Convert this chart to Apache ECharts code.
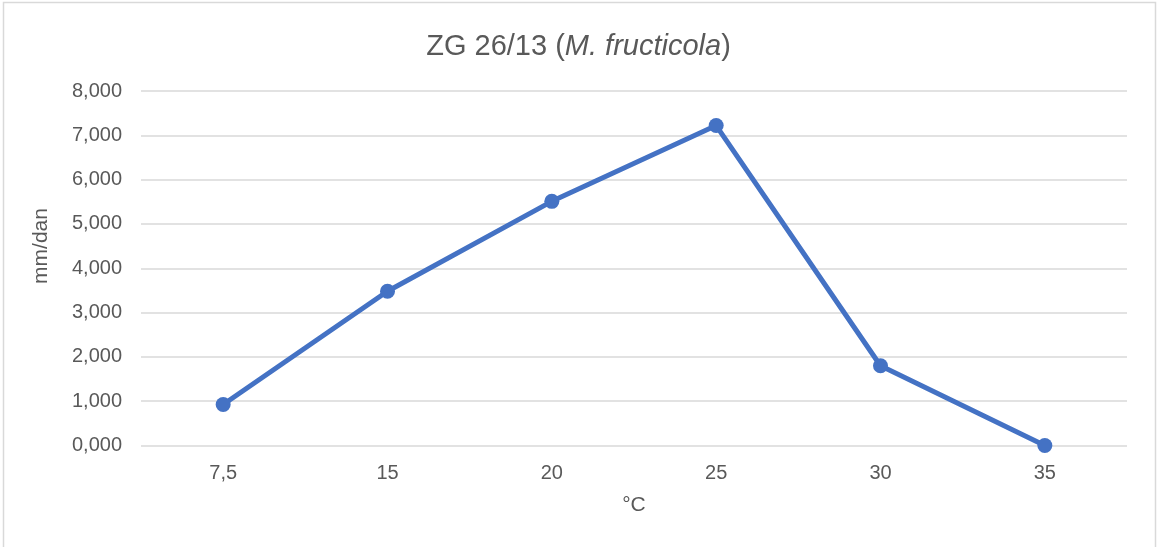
<!DOCTYPE html>
<html>
<head>
<meta charset="utf-8">
<style>
  html, body { margin: 0; padding: 0; background: #ffffff; }
  #chart { width: 1157px; height: 547px; }
</style>
<script src="https://cdn.jsdelivr.net/npm/echarts@6/dist/echarts.min.js"></script>
</head>
<body>
<div id="chart"></div>
<script>
// Temperature categories (°C) and daily growth values (mm/dan)
const categories = ['7,5', '15', '20', '25', '30', '35'];
const growth = [0.925, 3.48, 5.51, 7.22, 1.80, 0];
const yMin = 0;
const yMax = 8;
const yStep = 1;

const FONT = '"Liberation Sans", Arial, sans-serif';
const TEXT = '#595959';
const GRID = '#d9d9d9';
const LINE = '#4472C4';

const chart = echarts.init(document.getElementById('chart'), null, { renderer: 'canvas' });

chart.setOption({
  backgroundColor: '#ffffff',
  animation: false,
  title: {
    text: 'ZG 26/13 ({i|M. fructicola})',
    left: 'center',
    top: 27,
    textStyle: {
      fontFamily: FONT,
      fontSize: 29,
      fontWeight: 'normal',
      color: TEXT,
      rich: {
        i: { fontFamily: FONT, fontSize: 29, fontStyle: 'italic', color: TEXT }
      }
    }
  },
  grid: { left: 141, right: 30, top: 91, bottom: 101.5, containLabel: false },
  xAxis: {
    type: 'category',
    data: categories,
    boundaryGap: true,
    axisLine: { show: false },
    axisTick: { show: false },
    axisLabel: { color: TEXT, fontFamily: FONT, fontSize: 20, margin: 18 },
    name: '°C',
    nameLocation: 'middle',
    nameGap: 49,
    nameTextStyle: { color: TEXT, fontFamily: FONT, fontSize: 21 }
  },
  yAxis: {
    type: 'value',
    min: yMin,
    max: yMax,
    interval: yStep,
    axisLine: { show: false },
    axisTick: { show: false },
    splitLine: { lineStyle: { color: GRID, width: 1.5 } },
    axisLabel: {
      color: TEXT,
      fontFamily: FONT,
      fontSize: 20,
      margin: 19,
      formatter: v => v.toFixed(3).replace('.', ',')
    }
  },
  graphic: [
    {
      type: 'rect',
      silent: true,
      shape: { x: 3.5, y: 2.5, width: 1152, height: 560 },
      style: { fill: 'none', stroke: GRID, lineWidth: 1.5 },
      z: -1
    },
    {
      type: 'text',
      silent: true,
      x: 41,
      y: 246,
      rotation: Math.PI / 2,
      style: {
        text: 'mm/dan',
        fill: TEXT,
        font: '21px ' + FONT,
        align: 'center',
        verticalAlign: 'middle'
      }
    }
  ],
  series: [
    {
      type: 'line',
      data: growth,
      symbol: 'circle',
      symbolSize: 15,
      lineStyle: { color: LINE, width: 5 },
      itemStyle: { color: LINE }
    }
  ]
});
</script>
</body>
</html>
